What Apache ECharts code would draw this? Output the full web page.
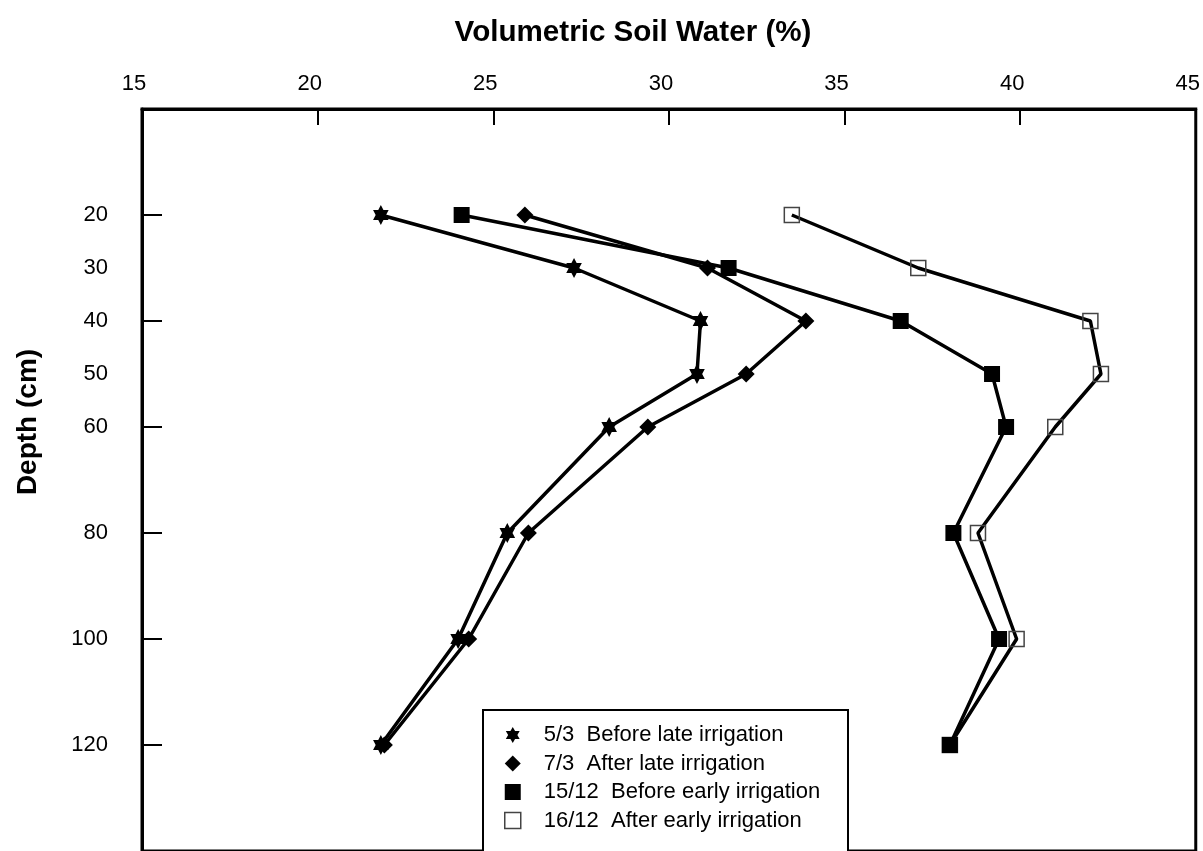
<!DOCTYPE html>
<html>
<head>
<meta charset="utf-8">
<script src="https://cdn.jsdelivr.net/npm/echarts@6/dist/echarts.min.js"></script>
<style>html,body{margin:0;padding:0;background:#fff}#c{width:1203px;height:851px}</style>
</head>
<body>
<div id="c"></div>
<script>
const depths = [20, 30, 40, 50, 60, 80, 100, 120];
const beforeLate = [21.8, 27.3, 30.9, 30.8, 28.3, 25.4, 24.0, 21.8];
const afterLate = [25.9, 31.1, 33.9, 32.2, 29.4, 26.0, 24.3, 21.9];
const beforeEarly = [24.1, 31.7, 36.6, 39.2, 39.6, 38.1, 39.4, 38.0];
const afterEarly = [33.5, 37.1, 42.0, 42.3, 41.0, 38.8, 39.9, 38.0];
const seriesNames = ['5/3  Before late irrigation', '7/3  After late irrigation', '15/12  Before early irrigation', '16/12  After early irrigation'];
const depthLabels = [20, 30, 40, 50, 60, 80, 100, 120];
const depthTicks = [20, 40, 60, 80, 100, 120];
const xTitle = 'Volumetric Soil Water (%)';
const yTitle = 'Depth (cm)';

const FONT = '"Liberation Sans", Arial, sans-serif';
const STAR = 'path://M0,-10 L2.887,-5 L8.66,-5 L5.774,0 L8.66,5 L2.887,5 L0,10 L-2.887,5 L-8.66,5 L-5.774,0 L-8.66,-5 L-2.887,-5 Z';

function pts(vals) { return depths.map((d, i) => [vals[i], d]); }

const symbols = [STAR, 'diamond', 'rect', 'rect'];
const sizes = [[18, 20], 17, 16, 15];
const styles = [
  { color: '#000' },
  { color: '#000' },
  { color: '#000' },
  { color: 'rgba(255,255,255,0)', borderColor: '#444', borderWidth: 1.5 }
];
const allVals = [beforeLate, afterLate, beforeEarly, afterEarly];

const chart = echarts.init(document.getElementById('c'), null, { renderer: 'canvas' });
chart.setOption({
  animation: false,
  backgroundColor: '#fff',
  grid: { left: 142, right: 6, top: 109, bottom: -6, show: true, borderColor: '#000', borderWidth: 3, containLabel: false },
  xAxis: {
    type: 'value', position: 'top', min: 15, max: 45, interval: 5,
    axisLine: { show: true, lineStyle: { color: '#000', width: 3 } },
    axisTick: { show: true, inside: true, length: 16, lineStyle: { color: '#000', width: 2 } },
    axisLabel: { color: '#000', fontSize: 22, fontFamily: FONT, margin: 14, padding: [0, 16, 0, 0], showMinLabel: true, showMaxLabel: true },
    splitLine: { show: false }
  },
  yAxis: {
    type: 'value', inverse: true, min: 0, max: 140, interval: 20,
    axisLine: { show: true, lineStyle: { color: '#000', width: 3 } },
    axisTick: { show: true, inside: true, length: 20, customValues: depthTicks, lineStyle: { color: '#000', width: 2 } },
    axisLabel: { color: '#000', fontSize: 22, fontFamily: FONT, margin: 34, customValues: depthLabels },
    splitLine: { show: false }
  },
  legend: {
    orient: 'vertical', left: 504, top: 724,
    padding: 0,
    itemWidth: 16, itemHeight: 16, itemGap: 6.5,
    textStyle: { color: '#000', fontSize: 22, fontFamily: FONT, lineHeight: 22, padding: [0, 0, 0, 18] },
    data: seriesNames.map((n, i) => ({
      name: n, icon: symbols[i],
      itemStyle: i === 3 ? { color: '#fff', borderColor: '#444', borderWidth: 1.5 } : { color: '#000' }
    }))
  },
  graphic: [
    { type: 'rect', z: 3, shape: { x: 483, y: 710, width: 365, height: 200 }, style: { fill: '#fff', stroke: '#000', lineWidth: 2 } },
    { type: 'text', x: 633, y: 33, style: { text: xTitle, fill: '#000', font: 'bold 29.6px ' + FONT, textAlign: 'center', textVerticalAlign: 'middle' } },
    { type: 'text', x: 28, y: 422, rotation: Math.PI / 2, style: { text: yTitle, fill: '#000', font: 'bold 28px ' + FONT, textAlign: 'center', textVerticalAlign: 'middle' } }
  ],
  series: allVals.map((vals, i) => ({
    name: seriesNames[i], type: 'line', data: pts(vals),
    symbol: symbols[i], symbolSize: sizes[i], symbolKeepAspect: true,
    showAllSymbol: true,
    lineStyle: { color: '#000', width: 3.5 },
    itemStyle: styles[i],
    z: i === 3 ? 1 : 2
  }))
});
</script>
</body>
</html>
